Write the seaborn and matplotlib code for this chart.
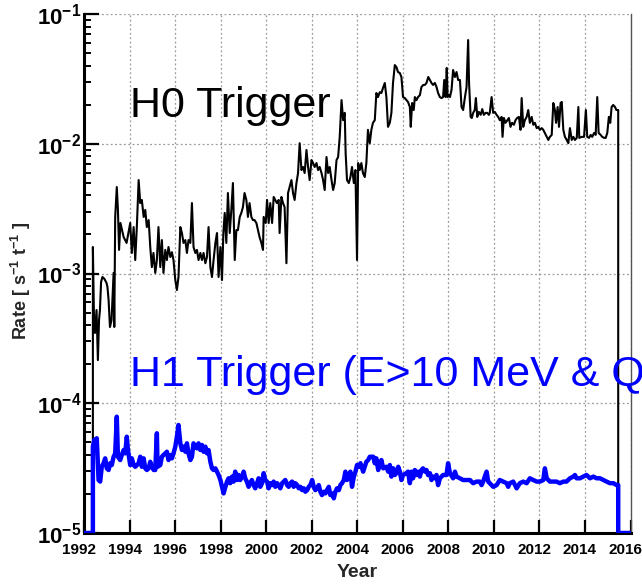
import matplotlib
matplotlib.use("Agg")
import matplotlib.pyplot as plt
import matplotlib.transforms as mtransforms
from matplotlib.ticker import LogLocator, FixedLocator, NullLocator
import seaborn as sns
import pandas as pd

# ---------------- data ----------------
h0_year = [1992.39, 1992.39, 1992.44, 1992.48, 1992.55, 1992.61, 1992.66, 1992.70, 1992.75, 1992.81,
           1992.90, 1992.99, 1993.03, 1993.08, 1993.14, 1993.21, 1993.25, 1993.30, 1993.33, 1993.37,
           1993.44, 1993.49, 1993.54, 1993.60, 1993.74, 1993.87, 1994.03, 1994.10, 1994.18, 1994.25,
           1994.32, 1994.40, 1994.47, 1994.54, 1994.62, 1994.69, 1994.76, 1994.84, 1994.91, 1994.98,
           1995.05, 1995.13, 1995.20, 1995.27, 1995.35, 1995.42, 1995.49, 1995.57, 1995.64, 1995.71,
           1995.79, 1995.86, 1995.93, 1996.01, 1996.08, 1996.15, 1996.23, 1996.30, 1996.37, 1996.45,
           1996.52, 1996.59, 1996.67, 1996.74, 1996.81, 1996.89, 1996.96, 1997.03, 1997.11, 1997.18,
           1997.25, 1997.33, 1997.40, 1997.47, 1997.55, 1997.62, 1997.69, 1997.77, 1997.84, 1997.91,
           1997.99, 1998.06, 1998.12, 1998.18, 1998.25, 1998.32, 1998.40, 1998.47, 1998.54, 1998.62,
           1998.69, 1998.76, 1998.84, 1998.91, 1998.98, 1999.05, 1999.13, 1999.20, 1999.27, 1999.35,
           1999.42, 1999.49, 1999.57, 1999.64, 1999.71, 1999.79, 1999.86, 1999.89, 1999.98, 2000.04,
           2000.11, 2000.18, 2000.26, 2000.33, 2000.40, 2000.47, 2000.55, 2000.59, 2000.67, 2000.74,
           2000.81, 2000.89, 2000.96, 2001.03, 2001.11, 2001.18, 2001.25, 2001.33, 2001.40, 2001.47,
           2001.55, 2001.62, 2001.69, 2001.77, 2001.84, 2001.91, 2001.99, 2002.06, 2002.13, 2002.21,
           2002.28, 2002.35, 2002.43, 2002.50, 2002.57, 2002.65, 2002.72, 2002.79, 2002.87, 2002.94,
           2003.01, 2003.09, 2003.16, 2003.23, 2003.31, 2003.38, 2003.45, 2003.49, 2003.55, 2003.63,
           2003.70, 2003.77, 2003.85, 2003.92, 2003.99, 2004.04, 2004.11, 2004.18, 2004.25, 2004.33,
           2004.40, 2004.47, 2004.55, 2004.62, 2004.69, 2004.77, 2004.84, 2004.91, 2004.99, 2005.06,
           2005.13, 2005.21, 2005.28, 2005.35, 2005.43, 2005.50, 2005.57, 2005.65, 2005.72, 2005.79,
           2005.87, 2005.94, 2006.01, 2006.09, 2006.16, 2006.23, 2006.31, 2006.35, 2006.41, 2006.48,
           2006.53, 2006.60, 2006.67, 2006.75, 2006.82, 2006.90, 2006.97, 2007.04, 2007.12, 2007.19,
           2007.26, 2007.33, 2007.41, 2007.48, 2007.55, 2007.63, 2007.70, 2007.77, 2007.82, 2007.88,
           2007.93, 2007.97, 2008.02, 2008.07, 2008.14, 2008.21, 2008.29, 2008.36, 2008.43, 2008.51,
           2008.58, 2008.65, 2008.73, 2008.80, 2008.87, 2008.91, 2008.98, 2009.03, 2009.09, 2009.16,
           2009.21, 2009.27, 2009.34, 2009.42, 2009.49, 2009.56, 2009.64, 2009.71, 2009.78, 2009.82,
           2009.90, 2009.97, 2010.04, 2010.12, 2010.19, 2010.26, 2010.34, 2010.38, 2010.44, 2010.51,
           2010.59, 2010.66, 2010.73, 2010.80, 2010.88, 2010.95, 2011.02, 2011.10, 2011.17, 2011.22,
           2011.29, 2011.36, 2011.44, 2011.51, 2011.58, 2011.66, 2011.73, 2011.80, 2011.88, 2011.95,
           2012.02, 2012.10, 2012.17, 2012.24, 2012.32, 2012.39, 2012.46, 2012.54, 2012.61, 2012.68,
           2012.73, 2012.80, 2012.86, 2012.93, 2012.98, 2013.05, 2013.12, 2013.20, 2013.27, 2013.34,
           2013.42, 2013.49, 2013.56, 2013.64, 2013.71, 2013.75, 2013.86, 2013.96, 2014.04, 2014.10,
           2014.18, 2014.25, 2014.32, 2014.40, 2014.47, 2014.54, 2014.60, 2014.69, 2014.76, 2014.84,
           2014.91, 2014.98, 2015.05, 2015.11, 2015.17, 2015.24, 2015.32, 2015.38, 2015.46, 2015.46]
h0_rate = [1.0e-5, 1.60e-3, 4.38e-4, 3.48e-4, 5.23e-4, 2.15e-4, 4.38e-4, 5.23e-4, 8.6e-4, 9.4e-4,
           9.07e-4, 8.45e-4, 7.87e-4, 6.25e-4, 3.87e-4, 4.38e-4, 6.25e-4, 1.01e-3, 3.87e-4, 2.73e-3,
           4.64e-3, 3.09e-3, 1.52e-3, 2.45e-3, 1.91e-3, 1.72e-3, 2.45e-3, 1.44e-3, 2.28e-3, 1.27e-3,
           2.28e-3, 5.25e-3, 3.49e-3, 3.69e-3, 2.73e-3, 3.09e-3, 2.28e-3, 2.58e-3, 1.60e-3, 1.12e-3,
           1.44e-3, 1.01e-3, 1.27e-3, 2.28e-3, 1.12e-3, 1.81e-3, 1.01e-3, 1.52e-3, 1.27e-3, 1.60e-3,
           1.34e-3, 1.46e-3, 1.27e-3, 8.9e-4, 7.46e-4, 9.4e-4, 2.28e-3, 2.05e-3, 1.72e-3, 1.81e-3,
           1.44e-3, 1.81e-3, 1.72e-3, 3.49e-3, 1.60e-3, 1.44e-3, 1.52e-3, 1.27e-3, 1.44e-3, 1.27e-3,
           1.44e-3, 1.20e-3, 1.34e-3, 2.28e-3, 1.12e-3, 9.4e-4, 1.27e-3, 1.72e-3, 2.05e-3, 9.4e-4,
           1.60e-3, 8.9e-4, 2.05e-3, 2.93e-3, 1.72e-3, 4.17e-3, 2.05e-3, 3.09e-3, 4.98e-3, 1.27e-3,
           2.16e-3, 2.16e-3, 2.73e-3, 2.93e-3, 3.25e-3, 4.17e-3, 3.69e-3, 2.73e-3, 3.49e-3, 2.73e-3,
           2.58e-3, 2.58e-3, 2.45e-3, 2.16e-3, 1.91e-3, 1.72e-3, 1.52e-3, 2.73e-3, 2.45e-3, 3.69e-3,
           2.45e-3, 3.49e-3, 2.45e-3, 3.89e-3, 3.69e-3, 3.49e-3, 3.69e-3, 2.05e-3, 3.89e-3, 3.49e-3,
           3.25e-3, 1.20e-3, 4.17e-3, 4.64e-3, 5.25e-3, 4.17e-3, 3.69e-3, 4.98e-3, 5.95e-3, 1.01e-2,
           6.27e-3, 6.62e-3, 5.95e-3, 8.95e-3, 6.62e-3, 5.25e-3, 7.49e-3, 7.1e-3, 6.62e-3, 7.1e-3,
           6.27e-3, 6.62e-3, 5.95e-3, 5.25e-3, 4.40e-3, 7.9e-3, 5.95e-3, 6.62e-3, 5.25e-3, 4.40e-3,
           4.98e-3, 7.49e-3, 7.9e-3, 1.13e-2, 2.17e-2, 1.52e-2, 1.73e-2, 8.48e-3, 5.25e-3, 4.98e-3,
           5.54e-3, 6.62e-3, 4.98e-3, 6.27e-3, 1.27e-3, 7.1e-3, 6.27e-3, 7.1e-3, 5.95e-3, 5.54e-3,
           7.1e-3, 1.28e-2, 1.01e-2, 1.28e-2, 1.45e-2, 1.52e-2, 2.46e-2, 2.29e-2, 2.50e-2, 2.46e-2,
           2.69e-2, 2.94e-2, 2.29e-2, 1.35e-2, 1.45e-2, 1.73e-2, 2.94e-2, 4.04e-2, 3.90e-2, 3.57e-2,
           3.51e-2, 3.27e-2, 2.29e-2, 2.25e-2, 2.17e-2, 2.10e-2, 1.92e-2, 1.35e-2, 2.06e-2, 1.82e-2,
           2.29e-2, 2.17e-2, 2.29e-2, 2.37e-2, 2.74e-2, 2.84e-2, 2.84e-2, 2.94e-2, 3.27e-2, 3.10e-2,
           2.94e-2, 2.84e-2, 2.94e-2, 2.74e-2, 2.46e-2, 2.29e-2, 2.25e-2, 2.29e-2, 3.10e-2, 2.29e-2,
           3.84e-2, 2.29e-2, 2.37e-2, 2.29e-2, 2.60e-2, 3.70e-2, 3.27e-2, 3.57e-2, 3.10e-2, 3.10e-2,
           1.92e-2, 1.82e-2, 2.29e-2, 2.74e-2, 6.30e-2, 2.94e-2, 1.61e-2, 1.58e-2, 1.73e-2, 1.82e-2,
           2.25e-2, 1.61e-2, 1.76e-2, 1.67e-2, 1.85e-2, 1.67e-2, 1.73e-2, 1.73e-2, 1.67e-2, 1.73e-2,
           2.29e-2, 1.73e-2, 1.76e-2, 1.67e-2, 1.61e-2, 1.52e-2, 1.61e-2, 1.13e-2, 1.58e-2, 1.45e-2,
           1.52e-2, 1.58e-2, 1.35e-2, 1.45e-2, 1.40e-2, 1.52e-2, 1.58e-2, 1.61e-2, 1.28e-2, 2.25e-2,
           1.35e-2, 1.52e-2, 1.61e-2, 1.82e-2, 1.45e-2, 1.61e-2, 1.40e-2, 1.45e-2, 1.32e-2, 1.35e-2,
           1.28e-2, 1.32e-2, 1.28e-2, 1.21e-2, 1.13e-2, 1.07e-2, 1.13e-2, 1.17e-2, 2.06e-2, 1.82e-2,
           1.45e-2, 1.92e-2, 1.35e-2, 2.06e-2, 2.10e-2, 1.28e-2, 1.13e-2, 1.07e-2, 1.01e-2, 1.32e-2,
           1.07e-2, 1.13e-2, 1.07e-2, 1.11e-2, 1.92e-2, 1.11e-2, 1.13e-2, 1.13e-2, 1.82e-2, 1.13e-2,
           1.11e-2, 1.17e-2, 1.13e-2, 1.21e-2, 1.17e-2, 2.29e-2, 1.21e-2, 1.17e-2, 1.13e-2, 1.11e-2,
           1.11e-2, 1.21e-2, 1.61e-2, 1.45e-2, 1.92e-2, 1.99e-2, 1.92e-2, 1.82e-2, 1.82e-2, 1.0e-5]

h1_year = [1992.00, 1992.39, 1992.39, 1992.45, 1992.56, 1992.64, 1992.71, 1992.78, 1992.86, 1992.93,
           1993.00, 1993.08, 1993.15, 1993.22, 1993.30, 1993.37, 1993.44, 1993.49, 1993.59, 1993.66,
           1993.74, 1993.81, 1993.88, 1993.93, 1994.03, 1994.10, 1994.18, 1994.25, 1994.32, 1994.40,
           1994.47, 1994.54, 1994.62, 1994.69, 1994.76, 1994.84, 1994.91, 1994.98, 1995.06, 1995.13,
           1995.20, 1995.23, 1995.35, 1995.42, 1995.49, 1995.57, 1995.64, 1995.71, 1995.79, 1995.86,
           1995.93, 1996.01, 1996.08, 1996.15, 1996.23, 1996.30, 1996.37, 1996.45, 1996.52, 1996.59,
           1996.67, 1996.74, 1996.81, 1996.89, 1996.96, 1997.03, 1997.11, 1997.18, 1997.25, 1997.33,
           1997.40, 1997.47, 1997.55, 1997.62, 1997.69, 1997.77, 1997.84, 1997.91, 1997.99, 1998.06,
           1998.13, 1998.21, 1998.28, 1998.35, 1998.42, 1998.50, 1998.57, 1998.64, 1998.72, 1998.79,
           1998.86, 1998.94, 1999.01, 1999.08, 1999.15, 1999.23, 1999.30, 1999.37, 1999.45, 1999.52,
           1999.60, 1999.67, 1999.74, 1999.82, 1999.89, 1999.96, 2000.04, 2000.11, 2000.18, 2000.26,
           2000.33, 2000.40, 2000.48, 2000.55, 2000.62, 2000.70, 2000.77, 2000.84, 2000.92, 2000.99,
           2001.06, 2001.14, 2001.21, 2001.28, 2001.36, 2001.43, 2001.50, 2001.58, 2001.65, 2001.72,
           2001.80, 2001.87, 2001.94, 2002.02, 2002.09, 2002.16, 2002.23, 2002.31, 2002.38, 2002.45,
           2002.53, 2002.60, 2002.67, 2002.75, 2002.82, 2002.89, 2002.97, 2003.04, 2003.11, 2003.19,
           2003.26, 2003.33, 2003.41, 2003.48, 2003.55, 2003.63, 2003.70, 2003.77, 2003.85, 2003.92,
           2003.99, 2004.07, 2004.14, 2004.26, 2004.40, 2004.48, 2004.55, 2004.70, 2004.77, 2004.84,
           2004.92, 2004.99, 2005.06, 2005.14, 2005.28, 2005.36, 2005.43, 2005.50, 2005.58, 2005.65,
           2005.72, 2005.80, 2005.87, 2005.94, 2006.01, 2006.16, 2006.23, 2006.31, 2006.38, 2006.45,
           2006.53, 2006.60, 2006.67, 2006.75, 2006.82, 2006.89, 2006.97, 2007.04, 2007.11, 2007.19,
           2007.26, 2007.33, 2007.41, 2007.48, 2007.55, 2007.63, 2007.77, 2007.92, 2007.99, 2008.07,
           2008.21, 2008.29, 2008.36, 2008.51, 2008.65, 2008.80, 2008.95, 2009.09, 2009.24, 2009.38,
           2009.46, 2009.53, 2009.60, 2009.68, 2009.75, 2009.82, 2009.97, 2010.12, 2010.26, 2010.41,
           2010.56, 2010.63, 2010.70, 2010.85, 2011.00, 2011.14, 2011.29, 2011.44, 2011.58, 2011.73,
           2011.88, 2012.02, 2012.17, 2012.24, 2012.32, 2012.46, 2012.61, 2012.75, 2012.90, 2013.05,
           2013.19, 2013.34, 2013.49, 2013.56, 2013.63, 2013.78, 2013.93, 2014.07, 2014.22, 2014.37,
           2014.51, 2014.66, 2014.81, 2014.95, 2015.10, 2015.25, 2015.39, 2015.46, 2015.46, 2016.00]
h1_rate = [1.0e-5, 1.0e-5, 4.63e-5, 5.21e-5, 5.37e-5, 2.56e-5, 2.49e-5, 3.24e-5, 3.45e-5, 3.76e-5,
           3.15e-5, 3.06e-5, 3.45e-5, 3.34e-5, 3.87e-5, 4.11e-5, 7.88e-5, 3.87e-5, 3.65e-5, 3.99e-5,
           4.36e-5, 4.11e-5, 5.52e-5, 4.36e-5, 3.34e-5, 3.76e-5, 3.34e-5, 3.24e-5, 3.34e-5, 3.45e-5,
           3.87e-5, 3.24e-5, 3.76e-5, 3.15e-5, 3.06e-5, 3.15e-5, 3.54e-5, 3.24e-5, 3.06e-5, 3.06e-5,
           5.87e-5, 3.24e-5, 3.34e-5, 3.87e-5, 3.99e-5, 4.11e-5, 4.23e-5, 3.65e-5, 3.99e-5, 3.76e-5,
           4.11e-5, 4.63e-5, 5.52e-5, 6.80e-5, 4.91e-5, 4.36e-5, 4.63e-5, 4.23e-5, 4.91e-5, 4.11e-5,
           3.65e-5, 3.87e-5, 4.91e-5, 4.63e-5, 4.49e-5, 4.91e-5, 4.36e-5, 4.77e-5, 4.23e-5, 4.63e-5,
           4.11e-5, 4.36e-5, 3.54e-5, 3.15e-5, 3.06e-5, 3.15e-5, 2.97e-5, 2.80e-5, 2.56e-5, 2.27e-5,
           2.02e-5, 2.27e-5, 2.49e-5, 2.64e-5, 2.42e-5, 2.72e-5, 2.49e-5, 2.97e-5, 2.56e-5, 2.80e-5,
           2.56e-5, 2.72e-5, 2.97e-5, 2.64e-5, 2.49e-5, 2.27e-5, 2.42e-5, 2.56e-5, 2.34e-5, 2.21e-5,
           2.42e-5, 2.64e-5, 2.27e-5, 2.42e-5, 2.89e-5, 2.56e-5, 2.49e-5, 2.21e-5, 2.42e-5, 2.34e-5,
           2.49e-5, 2.27e-5, 2.42e-5, 2.34e-5, 2.21e-5, 2.42e-5, 2.49e-5, 2.56e-5, 2.34e-5, 2.27e-5,
           2.42e-5, 2.49e-5, 2.27e-5, 2.42e-5, 2.34e-5, 2.21e-5, 2.27e-5, 2.14e-5, 2.21e-5, 2.08e-5,
           2.14e-5, 2.27e-5, 2.34e-5, 2.56e-5, 2.27e-5, 2.14e-5, 2.21e-5, 2.34e-5, 2.08e-5, 1.96e-5,
           2.08e-5, 2.02e-5, 2.14e-5, 2.27e-5, 1.96e-5, 2.02e-5, 1.85e-5, 2.08e-5, 2.21e-5, 2.14e-5,
           2.34e-5, 2.42e-5, 2.56e-5, 2.97e-5, 2.56e-5, 2.80e-5, 2.97e-5, 2.27e-5, 2.72e-5, 2.97e-5,
           3.34e-5, 3.24e-5, 3.45e-5, 2.97e-5, 3.54e-5, 3.65e-5, 3.87e-5, 3.87e-5, 3.45e-5, 3.76e-5,
           3.06e-5, 3.34e-5, 3.65e-5, 3.15e-5, 3.24e-5, 2.97e-5, 3.34e-5, 2.72e-5, 3.15e-5, 2.80e-5,
           2.89e-5, 3.24e-5, 2.97e-5, 2.56e-5, 2.80e-5, 2.89e-5, 2.97e-5, 2.42e-5, 2.97e-5, 2.64e-5,
           3.06e-5, 2.80e-5, 2.97e-5, 2.72e-5, 3.06e-5, 3.15e-5, 2.97e-5, 3.06e-5, 2.80e-5, 2.89e-5,
           2.56e-5, 2.72e-5, 2.64e-5, 2.80e-5, 2.34e-5, 2.64e-5, 2.80e-5, 2.80e-5, 3.45e-5, 2.89e-5,
           2.64e-5, 2.97e-5, 2.72e-5, 2.64e-5, 2.56e-5, 2.56e-5, 2.56e-5, 2.42e-5, 2.49e-5, 2.49e-5,
           2.34e-5, 2.49e-5, 2.72e-5, 2.97e-5, 2.49e-5, 2.42e-5, 2.27e-5, 2.34e-5, 2.56e-5, 2.49e-5,
           2.42e-5, 2.27e-5, 2.42e-5, 2.49e-5, 2.21e-5, 2.42e-5, 2.49e-5, 2.42e-5, 2.64e-5, 2.56e-5,
           2.49e-5, 2.49e-5, 2.56e-5, 3.15e-5, 2.64e-5, 2.49e-5, 2.49e-5, 2.49e-5, 2.42e-5, 2.49e-5,
           2.49e-5, 2.64e-5, 2.72e-5, 2.80e-5, 2.64e-5, 2.64e-5, 2.72e-5, 2.80e-5, 2.64e-5, 2.72e-5,
           2.64e-5, 2.64e-5, 2.56e-5, 2.49e-5, 2.42e-5, 2.42e-5, 2.34e-5, 2.34e-5, 1.0e-5, 1.0e-5]

x_ticks = [1992, 1994, 1996, 1998, 2000, 2002, 2004, 2006, 2008, 2010, 2012, 2014, 2016]
y_ticks = [1e-5, 1e-4, 1e-3, 1e-2, 1e-1]
y_tick_labels = [r"$\mathbf{10^{-5}}$", r"$\mathbf{10^{-4}}$", r"$\mathbf{10^{-3}}$",
                 r"$\mathbf{10^{-2}}$", r"$\mathbf{10^{-1}}$"]
label_h0 = "H0 Trigger"
label_h1 = "H1 Trigger (E>10 MeV & Q"

# ---------------- style ----------------
sns.set_theme(style="ticks")
plt.rcParams["font.family"] = ["Liberation Sans", "DejaVu Sans"]
plt.rcParams["mathtext.fontset"] = "custom"
plt.rcParams["mathtext.rm"] = "Liberation Sans"
plt.rcParams["mathtext.bf"] = "Liberation Sans:bold"
plt.rcParams["mathtext.it"] = "Liberation Sans:italic"

fig = plt.figure(figsize=(6.42, 5.84), dpi=100)
ax = fig.add_axes([84 / 642, 51 / 584, 546.5 / 642, 519 / 584])

df0 = pd.DataFrame({"year": h0_year, "rate": h0_rate})
df1 = pd.DataFrame({"year": h1_year, "rate": h1_rate})
sns.lineplot(data=df0, x="year", y="rate", sort=False, estimator=None,
             color="black", linewidth=1.5, ax=ax, zorder=3)
sns.lineplot(data=df1, x="year", y="rate", sort=False, estimator=None,
             color="#0000ff", linewidth=3.2, ax=ax, zorder=4)

ax.set_yscale("log")
ax.set_xlim(1992, 2016)
ax.set_ylim(1e-5, 1e-1)

ax.xaxis.set_major_locator(FixedLocator(x_ticks))
ax.xaxis.set_minor_locator(NullLocator())
ax.set_xticks(x_ticks)
ax.set_xticklabels([str(t) for t in x_ticks], fontsize=11, fontweight="bold")
ax.set_yticks(y_ticks)
ax.set_yticklabels(y_tick_labels, fontsize=16)
ax.yaxis.set_minor_locator(LogLocator(base=10, subs=[2, 3, 4, 5, 6, 7, 8, 9]))

ax.grid(True, which="major", color="#9a9a9a", linestyle=(0, (1.5, 2)), linewidth=0.9)
ax.set_axisbelow(True)

ax.tick_params(axis="both", which="both", direction="in", colors="black",
               left=True, bottom=True, right=False, top=False)
ax.tick_params(axis="y", which="major", length=11, width=1.6, pad=2)
ax.tick_params(axis="y", which="minor", length=5, width=1.4)
ax.tick_params(axis="x", which="major", length=9.5, width=1.6, pad=7)

for side in ["left", "bottom"]:
    ax.spines[side].set_linewidth(2.2)
    ax.spines[side].set_color("black")
ax.spines["right"].set_linewidth(1.0)
ax.spines["right"].set_color("#555555")
ax.spines["top"].set_visible(False)

# shift x tick labels slightly left like the reference
offset = mtransforms.ScaledTranslation(-5 / 100, 0, fig.dpi_scale_trans)
for lbl in ax.get_xticklabels():
    lbl.set_transform(lbl.get_transform() + offset)

ax.set_xlabel("Year", fontsize=14, fontweight="bold")
ax.xaxis.set_label_coords(0.5, -0.06)
ax.set_ylabel(r"Rate [ s$^{\mathbf{-1}}$ t$^{\mathbf{-1}}$ ]", fontsize=13, fontweight="bold")
ax.yaxis.set_label_coords(-0.093, 0.485)

ax.text(0.084, 0.8015, label_h0, transform=ax.transAxes, fontsize=31,
        color="black", ha="left", va="baseline")
ax.text(0.084, 0.283, label_h1, transform=ax.transAxes, fontsize=31,
        color="#0000ff", ha="left", va="baseline", clip_on=False)

fig.savefig("out.png", dpi=100)
